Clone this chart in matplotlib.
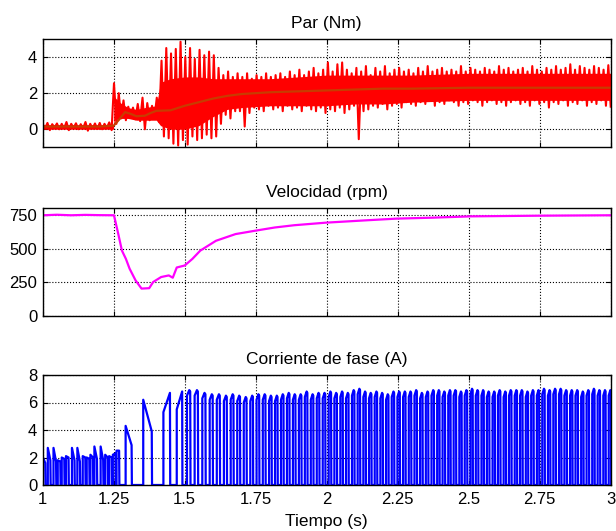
#!/usr/bin/env python3
"""Par, velocidad y corriente de fase durante un escalón de carga."""
import matplotlib
matplotlib.use("Agg")
import matplotlib.pyplot as plt
import numpy as np
from matplotlib.ticker import FormatStrFormatter

plt.rcParams.update({
    "font.family": ["Liberation Sans", "DejaVu Sans"],
    "font.size": 12,
    "axes.titlesize": 12.5, "axes.labelsize": 12.5,
    "xtick.labelsize": 12, "ytick.labelsize": 12,
    "xtick.direction": "in", "ytick.direction": "in",
    "xtick.top": True, "ytick.right": True,
    "xtick.major.size": 3.5, "ytick.major.size": 3.5,
    "xtick.major.pad": 5, "ytick.major.pad": 4,
    "axes.linewidth": 1.0,
})

# --- Par (Nm): picos superior / inferior de la oscilación, tiempo 1..3 s
torque_hi = [
    0.30, 0.35, 0.28, 0.32, 0.30, 0.40, 0.30, 0.33, 0.28, 0.40,
    0.30, 0.32, 0.35, 0.30, 0.38, 2.55, 2.00, 1.60, 1.25, 1.20,
    1.40, 1.75, 1.45, 1.30, 1.75, 3.80, 4.50, 4.20, 4.45, 4.85,
    4.00, 4.50, 3.90, 4.40, 4.10, 4.30, 4.10, 3.40, 3.00, 3.20,
    2.90, 3.10, 2.90, 3.10, 2.80, 3.00, 2.90, 3.10, 2.90, 3.00,
    3.10, 2.90, 3.20, 3.00, 3.30, 3.00, 3.20, 3.40, 3.10, 3.30,
    3.70, 3.20, 3.60, 3.70, 3.30, 3.10, 3.40, 3.20, 3.50, 3.00,
    3.40, 3.20, 3.50, 3.10, 3.30, 3.40, 3.20, 3.30, 3.10, 3.40,
    3.20, 3.50, 3.20, 3.30, 3.40, 3.20, 3.30, 3.20, 3.50, 3.20,
    3.40, 3.30, 3.20, 3.40, 3.30, 3.20, 3.50, 3.30, 3.40, 3.20,
    3.30, 3.40, 3.20, 3.50, 3.30, 3.20, 3.40, 3.30, 3.50, 3.30,
    3.40, 3.60, 3.30, 3.50, 3.40, 3.30, 3.50, 3.40, 3.30, 3.55,
]
torque_lo = [
    0.05, -0.05, 0.10, 0.00, 0.05, -0.05, 0.08, 0.00, 0.05, -0.08,
    0.05, 0.02, 0.00, 0.08, -0.05, 0.30, 0.60, 0.50, 0.70, 0.55,
    0.45, 0.00, 0.50, 0.60, 0.40, -0.40, -0.50, -0.80, -0.90, -0.60,
    -0.85, -0.40, -0.60, -0.50, -0.30, -0.50, -0.40, 0.30, 0.80, 0.60,
    1.00, 1.00, 0.15, 0.90, 1.20, 1.10, 1.00, 1.30, 1.10, 1.20,
    1.00, 1.30, 1.10, 1.20, 1.00, 1.30, 1.10, 1.00, 1.20, 0.90,
    1.10, 1.00, 1.20, 0.90, 1.10, 1.30, -0.55, 1.00, 1.10, 1.30,
    1.20, 1.40, 1.10, 1.30, 1.40, 1.20, 1.50, 1.40, 1.30, 1.50,
    1.40, 1.60, 1.30, 1.50, 1.40, 1.60, 1.50, 1.30, 1.50, 1.40,
    1.60, 1.50, 1.30, 1.50, 1.60, 1.40, 1.50, 1.30, 1.50, 1.60,
    1.40, 1.50, 1.30, 1.60, 1.40, 1.50, 1.20, 1.50, 1.40, 1.60,
    1.30, 1.50, 1.40, 1.60, 1.30, 1.50, 1.40, 1.60, 1.30, 1.25,
]
# franja compacta del par (zona casi sólida de la oscilación)
core_t = [1.0, 1.249, 1.252, 1.27, 1.30, 1.33, 1.36, 1.40, 1.415, 1.45, 1.50,
          1.55, 1.60, 1.65, 1.70, 1.80, 1.90, 2.00, 2.10, 2.20, 2.30, 2.50,
          2.75, 3.0]
core_hi = [0.25, 0.25, 1.8, 1.5, 1.2, 1.1, 1.2, 1.3, 2.6, 2.8, 2.9,
           2.9, 2.8, 2.8, 2.8, 2.8, 2.9, 3.0, 3.0, 3.0, 3.0, 3.1,
           3.1, 3.1]
core_lo = [0.0, 0.0, 0.5, 0.6, 0.6, 0.5, 0.5, 0.5, 0.2, 0.0, 0.0,
           0.2, 0.7, 1.1, 1.2, 1.3, 1.3, 1.3, 1.4, 1.4, 1.5, 1.6,
           1.6, 1.6]
# par medio (filtrado)
tmean_t = [1.0, 1.2, 1.25, 1.27, 1.29, 1.31, 1.33, 1.36, 1.38, 1.40, 1.45, 1.5,
           1.55, 1.6, 1.65, 1.7, 1.8, 1.9, 2.0, 2.1, 2.2, 2.3, 2.5, 2.75, 3.0]
tmean_v = [0.15, 0.15, 0.2, 0.55, 0.95, 0.85, 0.72, 0.75, 0.9, 1.02, 1.05, 1.3,
           1.5, 1.7, 1.85, 1.95, 2.05, 2.1, 2.15, 2.2, 2.25, 2.25, 2.3, 2.3, 2.3]

# --- Velocidad (rpm)
speed_t = [1.0, 1.05, 1.1, 1.15, 1.2, 1.251, 1.265, 1.279, 1.293, 1.306, 1.327,
           1.348, 1.375, 1.389, 1.417, 1.444, 1.458, 1.472, 1.5, 1.527, 1.555,
           1.61, 1.679, 1.748, 1.817, 1.886, 1.997, 2.135, 2.245, 2.37, 2.507,
           2.75, 3.0]
speed_v = [748, 752, 748, 751, 749, 748, 619, 485, 423, 350, 263,
           202, 205, 251, 288, 300, 283, 359, 374, 423, 485,
           558, 608, 633, 657, 674, 693, 710, 723, 730, 740,
           745, 748]

# --- Corriente de fase (A): pulsos del arranque y del transitorio
pulse_on = [1.000, 1.018, 1.038, 1.053, 1.067, 1.082, 1.103, 1.122, 1.141,
            1.155, 1.168, 1.182, 1.204, 1.220, 1.234, 1.247, 1.260,
            1.292, 1.354, 1.425, 1.472]
pulse_v0 = [2.05, 2.7, 2.7, 1.8, 2.0, 2.1, 2.7, 2.7, 2.1,
            2.0, 2.2, 2.8, 2.8, 2.2, 2.1, 2.2, 2.5,
            4.3, 6.2, 5.3, 5.5]
pulse_v1 = [1.6, 1.8, 1.7, 1.7, 1.9, 2.0, 1.8, 1.7, 2.0,
            1.9, 2.0, 1.9, 1.8, 2.0, 2.0, 2.3, 2.5,
            2.9, 3.9, 6.7, 6.8]
pulse_w = [0.009] * 17 + [0.021, 0.030, 0.023, 0.019]
# pulsos en régimen (inicio y pico)
reg_on = [1.508, 1.535, 1.562, 1.588, 1.613, 1.638, 1.662, 1.685, 1.708, 1.731,
          1.753, 1.775, 1.797, 1.818, 1.839, 1.860, 1.881, 1.902, 1.923, 1.944,
          1.965, 1.986,
          2.007, 2.027, 2.048, 2.068, 2.089, 2.109, 2.129, 2.149, 2.169, 2.189,
          2.209, 2.229, 2.249, 2.269, 2.289, 2.309, 2.329, 2.349, 2.369, 2.389,
          2.408, 2.428, 2.447, 2.467, 2.486, 2.506, 2.525, 2.545, 2.564, 2.584,
          2.603, 2.623, 2.642, 2.662, 2.681, 2.701, 2.720, 2.740, 2.759, 2.779,
          2.798, 2.818, 2.837, 2.857, 2.876, 2.896, 2.915, 2.935, 2.954, 2.974,
          2.993]
reg_pk = [6.9, 6.9, 6.7, 6.6, 6.6, 6.5, 6.6, 6.5, 6.4, 6.5,
          6.6, 6.6, 6.5, 6.5, 6.6, 6.7, 6.6, 6.6, 6.8, 6.6,
          6.7, 6.7,
          6.8, 6.7, 6.8, 6.7, 6.9, 7.0, 6.8, 6.7, 6.8, 6.7,
          6.6, 6.8, 6.8, 6.8, 6.8, 6.9, 6.7, 6.8, 6.9, 6.9,
          6.8, 6.9, 6.9, 6.8, 6.9, 7.0, 6.9, 6.9, 6.8, 6.8,
          6.9, 6.8, 6.9, 6.9, 6.9, 6.8, 6.9, 6.9, 7.0, 6.9,
          7.0, 7.0, 6.9, 6.9, 6.9, 6.8, 6.9, 7.0, 6.9, 6.9,
          6.9]

XTICKS = [1, 1.25, 1.5, 1.75, 2, 2.25, 2.5, 2.75, 3]


def style(ax, yticks, ylim, xlabels=False):
    ax.set_xlim(1, 3)
    ax.set_ylim(*ylim)
    ax.set_xticks(XTICKS)
    ax.set_yticks(yticks)
    ax.grid(True, color="black", ls=":", lw=0.8)
    ax.set_axisbelow(True)
    ax.xaxis.set_major_formatter(FormatStrFormatter("%g"))
    if not xlabels:
        ax.tick_params(labelbottom=False)


def current_trace():
    tt, yy = [1.0], [0.0]
    for t0, v0, v1, w in zip(pulse_on, pulse_v0, pulse_v1, pulse_w):
        tt += [t0, t0, t0 + w, t0 + w + 0.001]
        yy += [0.0, v0, v1, 0.0]
    on = np.array(reg_on)
    per = np.append(np.diff(on), np.diff(on)[-1])
    for t0, pk, T in zip(on, reg_pk, per):
        tt += [t0, t0, t0 + 0.3 * T, t0 + 0.42 * T, t0 + 0.46 * T]
        yy += [0.0, pk - 0.4, pk, pk - 0.1, 0.0]
    return np.array(tt), np.array(yy)


def main():
    fig = plt.figure(figsize=(6.16, 5.31), dpi=100)
    left, width = 42.7 / 616, 568 / 616
    ax1 = fig.add_axes([left, 1 - 147.3 / 531, width, 108.3 / 531])
    ax2 = fig.add_axes([left, 1 - 315.7 / 531, width, 107.4 / 531])
    ax3 = fig.add_axes([left, 1 - 485.0 / 531, width, 110.0 / 531])

    # par: franja sólida + oscilación en zigzag entre picos + valor medio
    ax1.fill_between(core_t, core_lo, core_hi, color="#FF0000", lw=0)
    zig = np.column_stack([torque_hi, torque_lo]).ravel()
    tz = np.linspace(1, 3, len(zig))
    ax1.plot(tz, zig, color="#FF0000", lw=1.5)
    ax1.plot(tmean_t, tmean_v, color="#C83C00", lw=1.6)
    style(ax1, [0, 2, 4], (-1, 5))
    ax1.set_title("Par (Nm)", pad=8)

    ax2.plot(speed_t, speed_v, color="#FF00FF", lw=1.6)
    style(ax2, [0, 250, 500, 750], (0, 800))
    ax2.set_title("Velocidad (rpm)", pad=8)

    tc, ic = current_trace()
    ax3.plot(tc, ic, color="#0000FF", lw=1.6)
    style(ax3, [0, 2, 4, 6, 8], (0, 8), xlabels=True)
    ax3.set_title("Corriente de fase (A)", pad=8)
    ax3.set_xlabel("Tiempo (s)", labelpad=5)

    fig.savefig("out.png", dpi=100)
    plt.close(fig)


if __name__ == "__main__":
    main()
